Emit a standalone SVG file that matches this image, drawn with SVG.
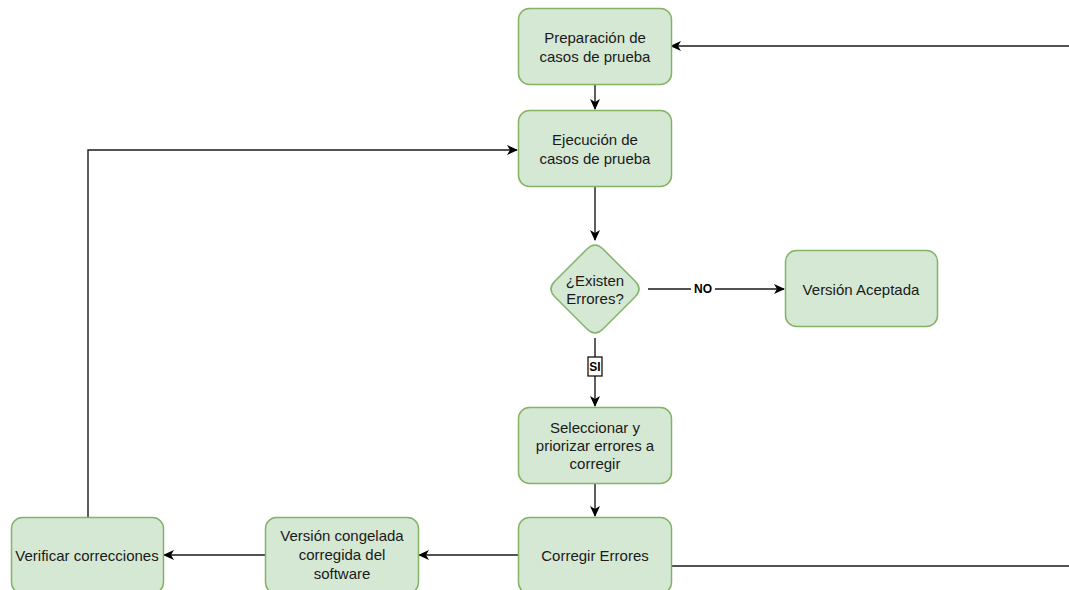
<svg xmlns="http://www.w3.org/2000/svg" width="1069" height="590" viewBox="0 0 1069 590">
  <defs>
    <style>
      .node { fill: #d5e8d4; stroke: #82b366; stroke-width: 1.5; }
      .txt { font-family: "Liberation Sans", Arial, sans-serif; font-size: 15px; fill: #1a1a1a; text-anchor: middle; dominant-baseline: central; }
      .edge { fill: none; stroke: #1a1a1a; stroke-width: 1.4; }
      .lbl { font-family: "Liberation Sans", Arial, sans-serif; font-size: 12px; font-weight: bold; fill: #000; text-anchor: middle; dominant-baseline: central; }
    </style>
    <marker id="arr" markerUnits="userSpaceOnUse" markerWidth="12" markerHeight="10" refX="10" refY="5" orient="auto">
      <path d="M0,0 L11,5 L0,10 L3,5 Z" fill="#000"/>
    </marker>
  </defs>
  <rect width="1069" height="590" fill="#ffffff"/>

  <g id="connectors">
    <path class="edge" d="M595,84 L595,109" marker-end="url(#arr)"/>
    <path class="edge" d="M595,186 L595,240" marker-end="url(#arr)"/>
    <path class="edge" d="M648,289 L784,289" marker-end="url(#arr)"/>
    <path class="edge" d="M595,338 L595,406" marker-end="url(#arr)"/>
    <path class="edge" d="M595,483 L595,516" marker-end="url(#arr)"/>
    <path class="edge" d="M518,555 L419,555" marker-end="url(#arr)"/>
    <path class="edge" d="M265,555 L164,555" marker-end="url(#arr)"/>
    <path class="edge" d="M88,517 L88,150 L517,150" marker-end="url(#arr)"/>
    <path class="edge" d="M671,566 L1075,566 L1075,46 L1069,46 L671,46" marker-end="url(#arr)"/>
    <g id="label-no">
      <rect x="691" y="282" width="24" height="14" fill="#ffffff"/>
      <text class="lbl" x="703" y="289">NO</text>
    </g>
    <g id="label-si">
      <rect x="588" y="357" width="14" height="19" fill="#ffffff" stroke="#000" stroke-width="1.2"/>
      <text class="lbl" x="595" y="367">SI</text>
    </g>
  </g>

  <g id="n-preparacion">
    <rect class="node" x="518.5" y="8.5" width="153" height="76" rx="11"/>
    <text class="txt" x="595" y="37">Preparación de</text>
    <text class="txt" x="595" y="56">casos de prueba</text>
  </g>
  <g id="n-ejecucion">
    <rect class="node" x="518.5" y="110.5" width="153" height="76" rx="11"/>
    <text class="txt" x="595" y="139">Ejecución de</text>
    <text class="txt" x="595" y="158">casos de prueba</text>
  </g>
  <g id="n-existen">
    <path class="node" d="M587,249 Q595,241 603,249 L635,281 Q643,289 635,297 L603,329 Q595,337 587,329 L555,297 Q547,289 555,281 Z"/>
    <text class="txt" x="595" y="280">¿Existen</text>
    <text class="txt" x="595" y="298">Errores?</text>
  </g>
  <g id="n-aceptada">
    <rect class="node" x="785.5" y="250.5" width="152" height="76" rx="11"/>
    <text class="txt" x="861" y="289">Versión Aceptada</text>
  </g>
  <g id="n-seleccionar">
    <rect class="node" x="518.5" y="407.5" width="153" height="76" rx="11"/>
    <text class="txt" x="595" y="427">Seleccionar y</text>
    <text class="txt" x="595" y="445">priorizar errores a</text>
    <text class="txt" x="595" y="463">corregir</text>
  </g>
  <g id="n-corregir">
    <rect class="node" x="518.5" y="517.5" width="153" height="76" rx="11"/>
    <text class="txt" x="595" y="555">Corregir Errores</text>
  </g>
  <g id="n-congelada">
    <rect class="node" x="265.5" y="517.5" width="153" height="76" rx="11"/>
    <text class="txt" x="342" y="535">Versión congelada</text>
    <text class="txt" x="342" y="554">corregida del</text>
    <text class="txt" x="342" y="573">software</text>
  </g>
  <g id="n-verificar">
    <rect class="node" x="11.5" y="517.5" width="152" height="76" rx="11"/>
    <text class="txt" x="87" y="555">Verificar correcciones</text>
  </g>
</svg>
